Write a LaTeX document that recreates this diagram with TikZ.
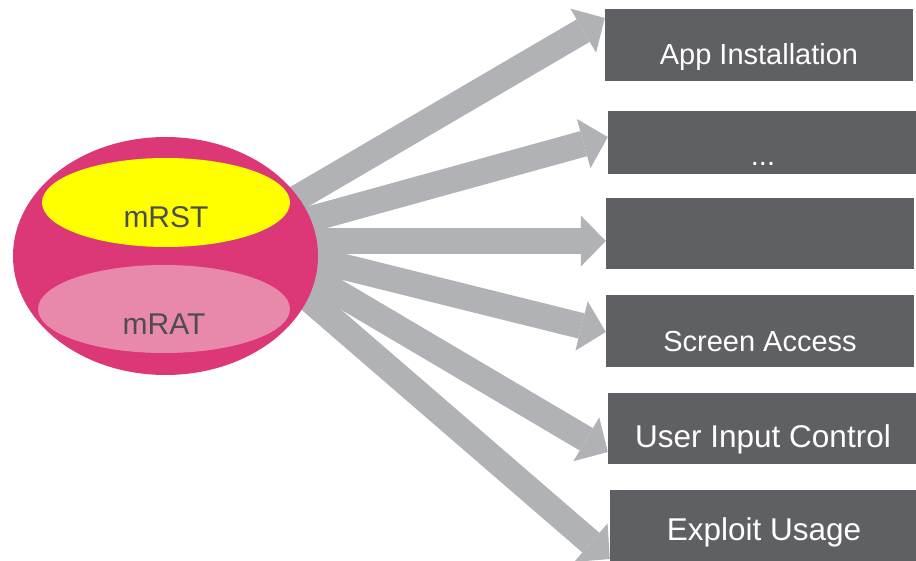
\documentclass[tikz,border=0pt]{standalone}
\usepackage{fontspec}
\setmainfont{Liberation Sans}
\usepackage{xcolor}
\usetikzlibrary{arrows.meta,shapes.geometric,calc,backgrounds}

\definecolor{malpink}{HTML}{DC3878}
\definecolor{ratpink}{HTML}{E888AB}
\definecolor{rstyellow}{HTML}{FFFF00}
\definecolor{featgray}{HTML}{5F6064}
\definecolor{arrowgray}{HTML}{B1B2B5}
\definecolor{labelgray}{HTML}{4D4D4F}

\tikzset{
  feature/.style={rectangle, fill=featgray, text=white, inner sep=0pt,
    minimum width=308pt, font=\fontsize{29}{34}\selectfont},
  bigfeature/.style={feature, font=\fontsize{31.5}{36}\selectfont},
  part/.style={ellipse, inner sep=0pt, text=labelgray, text depth=0pt,
    font=\fontsize{30}{36}\selectfont},
  fatarrow/.style={draw=arrowgray, line width=26pt,
    -{Triangle[length=25pt,width=51pt,line width=0pt 0]}}
}

\begin{document}
\begin{tikzpicture}[x=1pt,y=-1pt]
\useasboundingbox (0,0) rectangle (916,561);

% ===== Malware: mRST + mRAT =====
\node[ellipse, fill=malpink, inner sep=0pt, minimum width=305pt,
      minimum height=238pt] (mal) at (165.5,256) {};
\node[part, fill=rstyellow, minimum width=248pt, minimum height=89pt,
      text height=51pt] (rst) at (166,202.5) {mRST};
\node[part, fill=ratpink, minimum width=252pt, minimum height=88pt,
      text height=52pt] (rat) at (164,309) {mRAT};

% ===== Features =====
\node[feature, text height=56pt, text depth=16pt] (box1) at (759,45) {App Installation};
\node[feature, minimum width=310pt, text height=55pt, text depth=8pt] (box2) at (763,142.5) {...};
\node[feature, minimum height=71pt] (box3) at (760,233.5) {};
\node[feature, text height=57pt, text depth=15pt] (box4) at (760,331) {Screen Access};
\node[bigfeature, minimum width=310pt, text height=54pt, text depth=17pt] (box5) at (763,428.5) {User Input Control};
\node[bigfeature, text height=50pt, text depth=23pt] (box6) at (764,526.5) {Exploit Usage};

% Fat arrows (behind the ellipse)
\begin{pgfonlayer}{background}
  \foreach \dy/\tgt/\ty in {-48/box1/-27, -28.5/box2/-5.5, -15/box3/7.5,
                            -5/box4/1, 2.5/box5/23.5, 18/box6/32.5} {
    \draw[fatarrow] ($(mal.center)+(114.5,\dy)$) -- ($(\tgt.west)+(0,\ty)$);
  }
\end{pgfonlayer}

\end{tikzpicture}
\end{document}
